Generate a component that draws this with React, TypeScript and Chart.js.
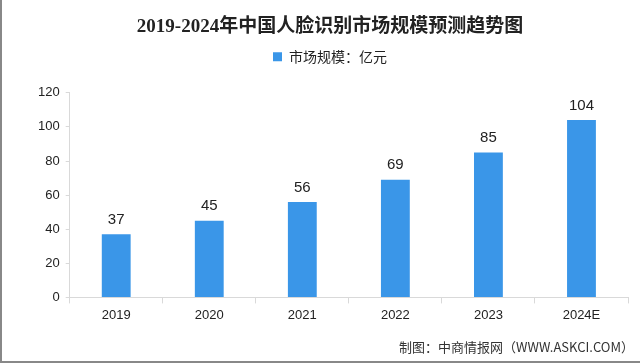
import React, { useEffect, useRef } from "react";
import { Chart, registerables } from "chart.js";

Chart.register(...registerables);

const categories = ["2019", "2020", "2021", "2022", "2023", "2024E"];
const marketSize = [37, 45, 56, 69, 85, 104];
const yTicks = [0, 20, 40, 60, 80, 100, 120];
const titleText = "2019-2024年中国人脸识别市场规模预测趋势图";
const seriesName = "市场规模：亿元";
const footerText = "制图：中商情报网（WWW.ASKCI.COM）";

const CJK = '"Noto Sans CJK SC", "Liberation Sans", sans-serif';

const labelPlugin = {
  id: "labels",
  beforeInit(chart: any) {
    const legend = chart.legend;
    if (legend) {
      const orig = legend.fit;
      legend.fit = function () {
        orig.call(this);
        this.height += 19;
      };
    }
  },
  afterDatasetsDraw(chart: any) {
    const ctx = chart.ctx;
    const meta = chart.getDatasetMeta(0);
    ctx.save();
    ctx.fillStyle = "#222";
    ctx.font = '15px "Liberation Sans", sans-serif';
    ctx.textAlign = "center";
    ctx.textBaseline = "bottom";
    meta.data.forEach((bar: any, i: number) => {
      ctx.fillText(String(marketSize[i]), bar.x, bar.y - 7);
    });
    ctx.font = "13px " + CJK;
    ctx.textAlign = "right";
    ctx.textBaseline = "middle";
    ctx.fillStyle = "#333";
    ctx.fillText(footerText, 632, 347);
    ctx.restore();
  },
};

export default function App() {
  const ref = useRef<HTMLCanvasElement>(null);
  useEffect(() => {
    document.body.style.margin = "0";
    const chart = new Chart(ref.current!, {
      type: "bar",
      data: {
        labels: categories,
        datasets: [
          {
            label: seriesName,
            data: marketSize,
            backgroundColor: "#3a96e8",
            categoryPercentage: 1,
            barPercentage: 0.31,
          },
        ],
      },
      options: {
        responsive: false,
        animation: false,
        layout: { padding: { left: 30, right: 12, top: 0, bottom: 34 } },
        plugins: {
          title: {
            display: true,
            text: titleText,
            color: "#222",
            font: { size: 19, weight: "bold", family: '"Liberation Serif", "Noto Sans CJK SC", serif' },
            padding: { top: 16, bottom: 1 },
          },
          legend: {
            display: true,
            labels: {
              boxWidth: 9,
              boxHeight: 9,
              color: "#222",
              font: { size: 14, family: CJK },
              padding: 10,
            },
          },
          tooltip: { enabled: false },
        },
        scales: {
          x: {
            grid: { display: true, offset: true, drawOnChartArea: false, tickLength: 6, color: "#d9d9d9" },
            border: { color: "#d9d9d9" },
            ticks: { color: "#222", font: { size: 13, family: '"Liberation Sans", sans-serif' }, padding: 4 },
          },
          y: {
            min: 0,
            max: 120,
            afterBuildTicks(axis: any) {
              axis.ticks = yTicks.map((v) => ({ value: v }));
            },
            grid: { display: true, drawOnChartArea: false, tickLength: 4, color: "#d9d9d9" },
            border: { color: "#d9d9d9" },
            ticks: { color: "#222", font: { size: 13, family: '"Liberation Sans", sans-serif' }, padding: 6 },
          },
        },
      },
      plugins: [labelPlugin],
    });
    return () => chart.destroy();
  }, []);
  return (
    <div style={{ position: "relative", width: 640, height: 363, boxSizing: "border-box", borderLeft: "2px solid #888", borderBottom: "2px solid #888", overflow: "hidden", background: "#fff" }}>
      <canvas ref={ref} width={638} height={361} style={{ display: "block" }} />
    </div>
  );
}
